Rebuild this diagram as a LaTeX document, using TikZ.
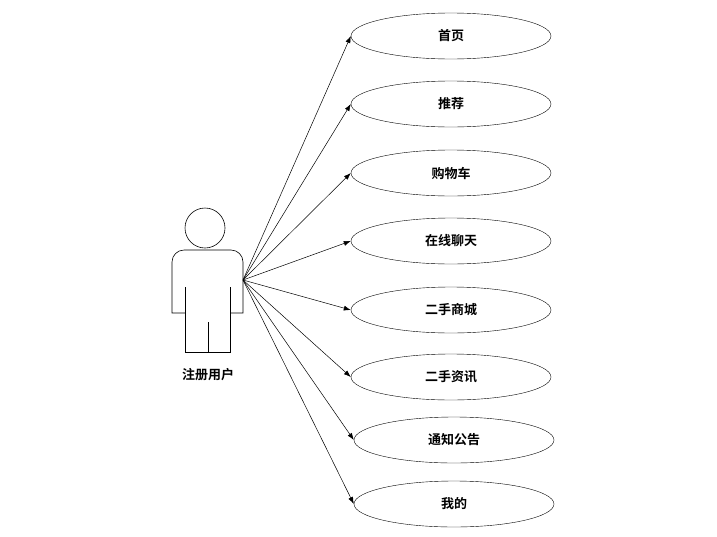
\documentclass[tikz,border=0pt]{standalone}
\usepackage{fontspec}
\newfontfamily\cjk{Noto Sans CJK SC}[BoldFont={Noto Sans CJK SC Bold}]
\usetikzlibrary{arrows.meta,shapes.geometric}
\begin{document}
\begin{tikzpicture}[x=1pt,y=-1pt,
  uc/.style={draw,ellipse,minimum width=200pt,minimum height=46pt,inner sep=0pt,font=\cjk\bfseries\fontsize{13}{15}\selectfont},
  conn/.style={-{Latex[length=7pt,width=5pt]},line width=0.5pt},
  fig/.style={line width=0.6pt}]
\useasboundingbox (0,0) rectangle (717,536);
\draw[fig] (205,228) circle (20);
\draw[fig] (185,313) -- (172,313) -- (172,262) arc[start angle=180,end angle=270,radius=12] -- (231,250) arc[start angle=270,end angle=360,radius=12] -- (243,313) -- (230,313);
\draw[fig] (185,287) -- (185,352) -- (230,352) -- (230,287);
\draw[fig] (208,322) -- (208,352);
\node[font=\cjk\bfseries\fontsize{13}{15}\selectfont] (lab) at (208,375) {注册用户};
\coordinate (act) at (243,280);
\foreach \n/\t/\x/\y in {a/首页/451/36,b/推荐/451/104,c/购物车/451/173,d/在线聊天/451/241,e/二手商城/451/310,f/二手资讯/451/377,g/通知公告/454/440,h/我的/454/504}{
  \node[uc] (\n) at (\x,\y) {\t};
  \draw[conn] (act) -- (\n.west);
}
\end{tikzpicture}
\end{document}
